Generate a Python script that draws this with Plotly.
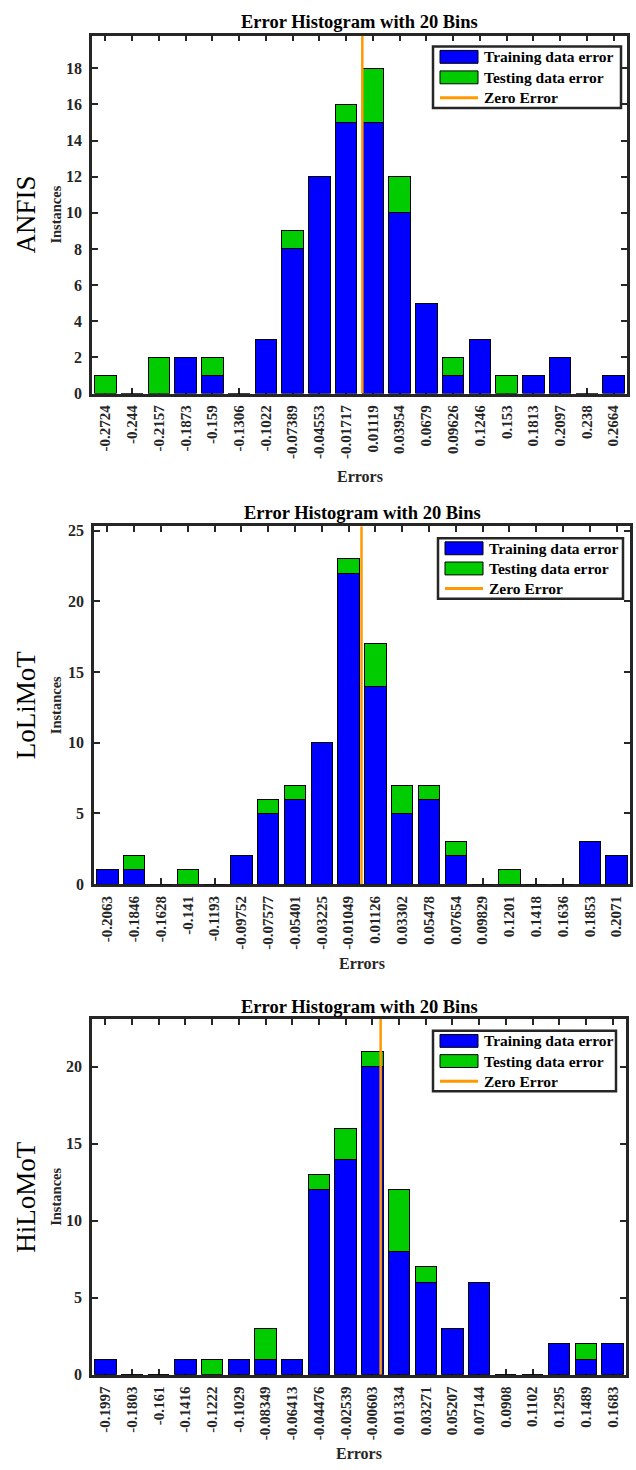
import plotly.graph_objects as go

W, H = 636, 1470

# ---------------- data ----------------
anfis_bins = ["-0.2724", "-0.244", "-0.2157", "-0.1873", "-0.159", "-0.1306", "-0.1022",
              "-0.07389", "-0.04553", "-0.01717", "0.01119", "0.03954", "0.0679", "0.09626",
              "0.1246", "0.153", "0.1813", "0.2097", "0.238", "0.2664"]
anfis_train = [0, 0, 0, 2, 1, 0, 3, 8, 12, 15, 15, 10, 5, 1, 3, 0, 1, 2, 0, 1]
anfis_test = [1, 0, 2, 0, 1, 0, 0, 1, 0, 1, 3, 2, 0, 1, 0, 1, 0, 0, 0, 0]
anfis_yticks = [0, 2, 4, 6, 8, 10, 12, 14, 16, 18]

lolimot_bins = ["-0.2063", "-0.1846", "-0.1628", "-0.141", "-0.1193", "-0.09752", "-0.07577",
                "-0.05401", "-0.03225", "-0.01049", "0.01126", "0.03302", "0.05478", "0.07654",
                "0.09829", "0.1201", "0.1418", "0.1636", "0.1853", "0.2071"]
lolimot_train = [1, 1, 0, 0, 0, 2, 5, 6, 10, 22, 14, 5, 6, 2, 0, 0, 0, 0, 3, 2]
lolimot_test = [0, 1, 0, 1, 0, 0, 1, 1, 0, 1, 3, 2, 1, 1, 0, 1, 0, 0, 0, 0]
lolimot_yticks = [0, 5, 10, 15, 20, 25]

hilomot_bins = ["-0.1997", "-0.1803", "-0.161", "-0.1416", "-0.1222", "-0.1029", "-0.08349",
                "-0.06413", "-0.04476", "-0.02539", "-0.00603", "0.01334", "0.03271", "0.05207",
                "0.07144", "0.0908", "0.1102", "0.1295", "0.1489", "0.1683"]
hilomot_train = [1, 0, 0, 1, 0, 1, 1, 1, 12, 14, 20, 8, 6, 3, 6, 0, 0, 2, 1, 2]
hilomot_test = [0, 0, 0, 0, 1, 0, 2, 0, 1, 2, 1, 4, 1, 0, 0, 0, 0, 0, 1, 0]
hilomot_yticks = [0, 5, 10, 15, 20]

model_names = ["ANFIS", "LoLiMoT", "HiLoMoT"]
legend_labels = ["Training data error", "Testing data error", "Zero Error"]
title_text = "Error Histogram with 20 Bins"

# ---------------- style ----------------
BLUE = "#0000FF"
GREEN = "#00CC00"
ORANGE = "#FF9900"
AX = "#262626"
FONT = "Liberation Serif"

# pixel geometry of each panel: (left, right, top, bottom)
panels_px = [(92, 627, 32, 393), (94, 630, 527, 888), (92, 626, 1024, 1383)]
legend_px = [(433, 621, 43, 105), (438, 623, 539, 600), (433, 616, 1036, 1097)]
title_y = [18, 514, 1012]
errors_y = [477, 968, 1462]

datasets = [
    (anfis_bins, anfis_train, anfis_test, anfis_yticks),
    (lolimot_bins, lolimot_train, lolimot_test, lolimot_yticks),
    (hilomot_bins, hilomot_train, hilomot_test, hilomot_yticks),
]


def px(x):
    return x / W


def py(y):
    return 1 - y / H


fig = go.Figure()
layout = dict(
    width=W, height=H,
    margin=dict(l=0, r=0, t=0, b=0),
    paper_bgcolor="white", plot_bgcolor="white",
    barmode="stack", showlegend=False,
    font=dict(family=FONT, color=AX),
)
annotations = []
shapes = []

for i, (bins, train, test, yticks) in enumerate(datasets):
    n = i + 1
    xa = "x" if n == 1 else f"x{n}"
    ya = "y" if n == 1 else f"y{n}"
    centers = [float(b) for b in bins]
    step = (centers[-1] - centers[0]) / (len(centers) - 1)
    totals = [a + b for a, b in zip(train, test)]
    ymax = max(totals) * 1.1

    fig.add_trace(go.Bar(x=centers, y=train, width=0.8 * step, xaxis=xa, yaxis=ya,
                         marker=dict(color=BLUE, line=dict(color="black", width=1)),
                         name=legend_labels[0]))
    fig.add_trace(go.Bar(x=centers, y=test, width=0.8 * step, xaxis=xa, yaxis=ya,
                         base=train,
                         marker=dict(color=GREEN, line=dict(color="black", width=1)),
                         name=legend_labels[1]))
    fig.add_trace(go.Scatter(x=[0, 0], y=[0, ymax], mode="lines", xaxis=xa, yaxis=ya,
                             line=dict(color=ORANGE, width=2.5), name=legend_labels[2]))

    l, r, t, b = panels_px[i]
    layout["xaxis" if n == 1 else f"xaxis{n}"] = dict(
        domain=[px(l), px(r)], anchor=ya,
        range=[centers[0] - step / 2, centers[-1] + step / 2],
        tickmode="array", tickvals=centers, ticktext=[f"<b>{s}</b>" for s in bins],
        tickangle=-90,
        ticks="inside", ticklen=6, tickwidth=2, tickcolor=AX,
        showline=True, linewidth=2.5, linecolor=AX, mirror="ticks",
        showgrid=False, zeroline=False, layer="below traces",
        tickfont=dict(family=FONT, size=15, color=AX),
        ticklabelstandoff=3,
    )
    layout["yaxis" if n == 1 else f"yaxis{n}"] = dict(
        domain=[py(b), py(t)], anchor=xa,
        range=[0, ymax],
        tickmode="array", tickvals=yticks, ticktext=[f"<b>{v}</b>" for v in yticks],
        ticks="inside", ticklen=6, tickwidth=2, tickcolor=AX,
        showline=True, linewidth=2.5, linecolor=AX, mirror="ticks",
        showgrid=False, zeroline=False,
        tickfont=dict(family=FONT, size=16, color=AX),
        ticklabelstandoff=4,
    )

    cx = (l + r) / 2
    cy = (t + b) / 2
    annotations.append(dict(text=f"<b>{title_text}</b>", x=px(cx), y=py(title_y[i]),
                            xref="paper", yref="paper", showarrow=False,
                            font=dict(family=FONT, size=18.5, color="black"),
                            xanchor="center", yanchor="middle"))
    annotations.append(dict(text="<b>Errors</b>", x=px(cx), y=py(errors_y[i]),
                            xref="paper", yref="paper", showarrow=False,
                            font=dict(family=FONT, size=16, color=AX),
                            xanchor="center", yanchor="middle"))
    annotations.append(dict(text="<b>Instances</b>", x=px(56), y=py(cy), textangle=-90,
                            xref="paper", yref="paper", showarrow=False,
                            font=dict(family=FONT, size=14.5, color=AX),
                            xanchor="center", yanchor="middle"))
    annotations.append(dict(text=model_names[i], x=px(26), y=py(cy), textangle=-90,
                            xref="paper", yref="paper", showarrow=False,
                            font=dict(family=FONT, size=27, color="black"),
                            xanchor="center", yanchor="middle"))

    # legend box
    ll, lr, lt, lb = legend_px[i]
    shapes.append(dict(type="rect", xref="paper", yref="paper",
                       x0=px(ll), x1=px(lr), y0=py(lb), y1=py(lt),
                       line=dict(color=AX, width=2.5), fillcolor="white", layer="above"))
    row_h = (lb - lt) / 3
    for k in range(3):
        ry = lt + row_h * (k + 0.5)
        if k < 2:
            shapes.append(dict(type="rect", xref="paper", yref="paper",
                               x0=px(ll + 7), x1=px(ll + 45), y0=py(ry + 6.5), y1=py(ry - 6.5),
                               line=dict(color="black", width=1),
                               fillcolor=[BLUE, GREEN][k], layer="above"))
        else:
            shapes.append(dict(type="line", xref="paper", yref="paper",
                               x0=px(ll + 7), x1=px(ll + 45), y0=py(ry), y1=py(ry),
                               line=dict(color=ORANGE, width=3), layer="above"))
        annotations.append(dict(text=f"<b>{legend_labels[k]}</b>", x=px(ll + 49), y=py(ry),
                                xref="paper", yref="paper", showarrow=False,
                                font=dict(family=FONT, size=15.5, color="black"),
                                xanchor="left", yanchor="middle"))

layout["annotations"] = annotations
layout["shapes"] = shapes
fig.update_layout(**layout)
fig.write_html("out.html")
